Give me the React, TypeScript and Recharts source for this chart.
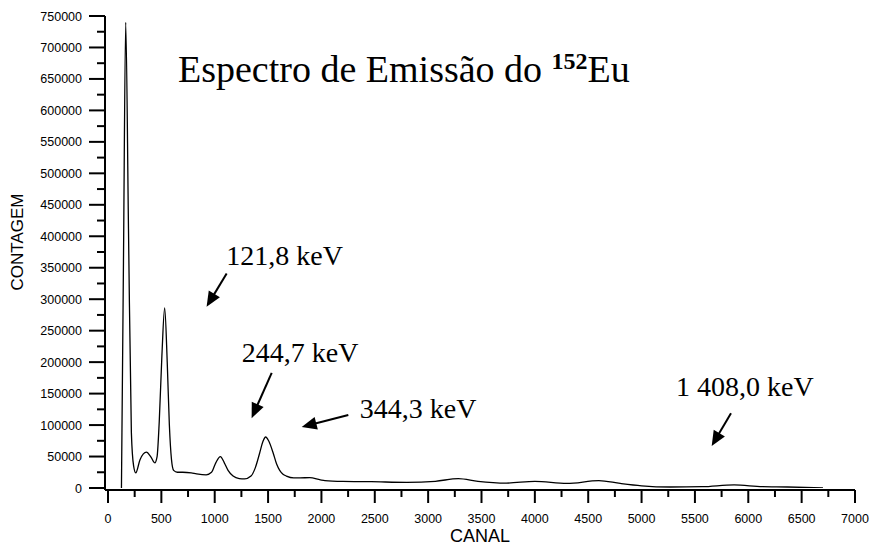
import React from 'react';
import { LineChart, Line, XAxis, YAxis, ReferenceLine, ReferenceDot } from 'recharts';

const channels = [
  126, 145, 166, 192, 219, 240, 260, 300, 360, 400, 438, 460, 480, 505, 531, 555, 575, 595, 615, 650,
  700, 780, 830, 920, 970, 1010, 1053, 1090, 1125, 1172, 1230, 1280, 1340, 1380, 1422, 1450, 1478, 1505,
  1547, 1580, 1609, 1640, 1672, 1740, 1800, 1890, 1990, 2033, 2200, 2467, 2800, 3067, 3283, 3467, 3733,
  4000, 4300, 4600, 4800, 5000, 5267, 5567, 5867, 6133, 6367, 6700,
];
const counts = [
  0, 360000, 740000, 412000, 88000, 35000, 24000, 45000, 57000, 50000, 40000, 50000, 105000, 210000, 286000, 200000, 100000, 45000, 28000, 25000,
  25000, 24000, 22500, 21000, 25000, 40000, 50000, 40000, 28000, 19000, 15000, 14500, 19000, 32000, 56000, 73000, 81000, 75000,
  56000, 38000, 28000, 22000, 19000, 16000, 16000, 16500, 13000, 11800, 10500, 10000, 8900, 10600, 15000, 10600, 7800,
  10600, 7200, 11800, 7200, 3500, 1600, 2100, 5000, 2100, 1600, 0,
];

const xTicks = [0, 250, 500, 750, 1000, 1250, 1500, 1750, 2000, 2250, 2500, 2750, 3000, 3250, 3500, 3750, 4000, 4250, 4500, 4750, 5000, 5250, 5500, 5750, 6000, 6250, 6500, 6750, 7000];
const yTicks = [0, 25000, 50000, 75000, 100000, 125000, 150000, 175000, 200000, 225000, 250000, 275000, 300000, 325000, 350000, 375000, 400000, 425000, 450000, 475000, 500000, 525000, 550000, 575000, 600000, 625000, 650000, 675000, 700000, 725000, 750000];

const titleText = 'Espectro de Emissão do ';
const titleSup = '152';
const titleEnd = 'Eu';
const xLabel = 'CANAL';
const yLabel = 'CONTAGEM';

const annotationLabels = ['121,8 keV', '244,7 keV', '344,3 keV', '1 408,0 keV'];
const annotationX = [1108, 1253, 2359, 5323];
const annotationY = [354000, 200000, 111000, 146000];
const arrowFromX = [1112, 1534, 2252, 5838];
const arrowFromY = [341000, 183000, 116000, 118700];
const arrowToX = [924, 1346, 1815, 5657];
const arrowToY = [288000, 111000, 97000, 66700];

const titleX = 656;
const titleY = 645600;

const data = channels.map((ch, i) => ({ ch, count: counts[i] }));

const SANS = '"Liberation Sans", Arial, Helvetica, sans-serif';
const SERIF = '"Liberation Serif", "Times New Roman", Times, serif';

const XTick = (props: any) => {
  const { x, y, payload } = props;
  const major = payload.value % 500 === 0;
  return (
    <g>
      <line x1={x} y1={y} x2={x} y2={y + (major ? 13 : 7)} stroke="#000" strokeWidth={2} />
      {major && (
        <text x={x} y={y + 33} textAnchor="middle" fontFamily={SANS} fontSize={12.5} fill="#000">
          {payload.value}
        </text>
      )}
    </g>
  );
};

const YTick = (props: any) => {
  const { x, y, payload } = props;
  const major = payload.value % 50000 === 0;
  return (
    <g>
      <line x1={x - (major ? 16 : 8)} y1={y} x2={x} y2={y} stroke="#000" strokeWidth={2} />
      {major && (
        <text x={x - 23} y={y + 4.5} textAnchor="end" fontFamily={SANS} fontSize={12.5} fill="#000">
          {payload.value}
        </text>
      )}
    </g>
  );
};

const Arrow = (p: any) => {
  const { x1, y1, x2, y2 } = p;
  const dx = x2 - x1;
  const dy = y2 - y1;
  const L = Math.hypot(dx, dy) || 1;
  const ux = dx / L;
  const uy = dy / L;
  const headLen = 15;
  const headW = 6.5;
  const bx = x2 - ux * headLen;
  const by = y2 - uy * headLen;
  const px = -uy;
  const py = ux;
  return (
    <g>
      <line x1={x1} y1={y1} x2={bx + ux * 2} y2={by + uy * 2} stroke="#000" strokeWidth={2} />
      <polygon
        points={`${x2},${y2} ${bx + px * headW},${by + py * headW} ${bx - px * headW},${by - py * headW}`}
        fill="#000"
      />
    </g>
  );
};

const YLabel = (props: any) => {
  const vb = props.viewBox || { x: 0, y: 16, width: 105, height: 474 };
  const cx = vb.x + 17;
  const cy = vb.y + vb.height / 2 - 11;
  return (
    <text
      x={cx}
      y={cy}
      transform={`rotate(-90 ${cx} ${cy})`}
      textAnchor="middle"
      dominantBaseline="central"
      fontFamily={SANS}
      fontSize={17}
      fill="#000"
    >
      {yLabel}
    </text>
  );
};

export default function App() {
  return (
    <div style={{ position: 'absolute', left: 0, top: 0, width: 874, height: 548, background: '#fff' }}>
      <LineChart width={874} height={548} data={data} margin={{ top: 16, right: 19, bottom: 0, left: 0 }}>
        <XAxis
          dataKey="ch"
          type="number"
          domain={[0, 7000]}
          ticks={xTicks}
          interval={0}
          padding={{ left: 3, right: 0 }}
          height={58}
          axisLine={{ stroke: '#000', strokeWidth: 2 }}
          tickLine={false}
          tickSize={0}
          tickMargin={0}
          tick={<XTick />}
          allowDataOverflow
          label={{ value: xLabel, position: 'insideBottom', offset: 6, fill: '#000', fontSize: 18, fontFamily: SANS }}
        />
        <YAxis
          type="number"
          domain={[0, 750000]}
          ticks={yTicks}
          interval={0}
          width={105}
          padding={{ top: 0, bottom: 2 }}
          axisLine={{ stroke: '#000', strokeWidth: 2 }}
          tickLine={false}
          tickSize={0}
          tickMargin={0}
          tick={<YTick />}
          allowDataOverflow
          label={<YLabel />}
        />
        <Line
          dataKey="count"
          type="monotone"
          stroke="#000"
          strokeWidth={1.3}
          dot={false}
          activeDot={false}
          isAnimationActive={false}
        />
        {annotationLabels.map((lab, i) => (
          <ReferenceLine
            key={'a' + i}
            segment={[
              { x: arrowFromX[i], y: arrowFromY[i] },
              { x: arrowToX[i], y: arrowToY[i] },
            ]}
            shape={Arrow}
          />
        ))}
        {annotationLabels.map((lab, i) => (
          <ReferenceDot
            key={'t' + i}
            x={annotationX[i]}
            y={annotationY[i]}
            r={0}
            shape={(p: any) => (
              <text x={p.cx} y={p.cy} fontFamily={SERIF} fontSize={28} fill="#000">
                {lab}
              </text>
            )}
          />
        ))}
        <ReferenceDot
          x={titleX}
          y={titleY}
          r={0}
          shape={(p: any) => (
            <text x={p.cx} y={p.cy} fontFamily={SERIF} fontSize={38} fill="#000">
              {titleText}
              <tspan fontWeight="bold" fontSize={24} dy={-13}>
                {titleSup}
              </tspan>
              <tspan dy={13}>{titleEnd}</tspan>
            </text>
          )}
        />
      </LineChart>
    </div>
  );
}
